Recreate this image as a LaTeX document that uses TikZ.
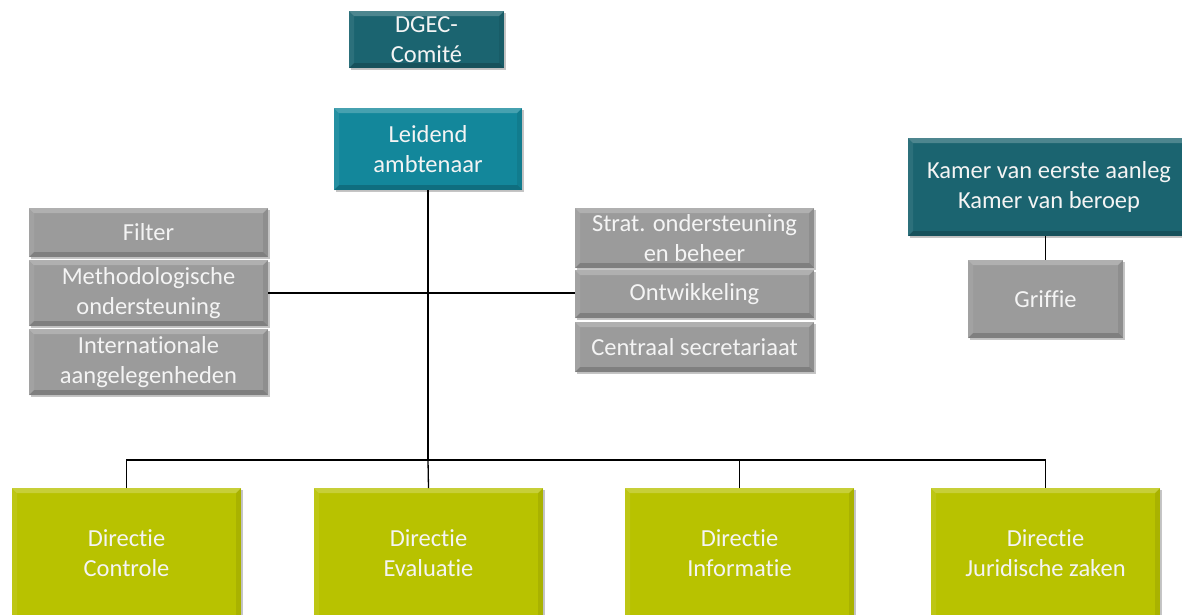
\documentclass[tikz,border=0pt]{standalone}
\usepackage{fontspec}
\setmainfont{Carlito}[Ligatures={NoCommon,NoContextual},RawFeature={-liga;-clig;-calt}]
\usetikzlibrary{shadows}
\definecolor{tealdark}{HTML}{1B6470}
\definecolor{teallight}{HTML}{13879B}
\definecolor{grayb}{HTML}{9B9B9B}
\definecolor{olive}{HTML}{B8C200}
\definecolor{txt}{HTML}{F4F4F4}
\begin{document}
\begin{tikzpicture}[x=1pt,y=-1pt,
  bevel/.style={path picture={
    \coordinate (bnw) at (path picture bounding box.north west);
    \coordinate (bne) at (path picture bounding box.north east);
    \coordinate (bsw) at (path picture bounding box.south west);
    \coordinate (bse) at (path picture bounding box.south east);
    \fill[white,opacity=.22] (bnw) -- (bne) -- ([shift={(-5pt,-5pt)}]bne) -- ([shift={(5pt,-5pt)}]bnw) -- cycle;
    \fill[black,opacity=.18] (bsw) -- (bse) -- ([shift={(-5pt,5pt)}]bse) -- ([shift={(5pt,5pt)}]bsw) -- cycle;
    \fill[black,opacity=.08] (bne) -- (bse) -- ([shift={(-5pt,5pt)}]bse) -- ([shift={(-5pt,-5pt)}]bne) -- cycle;
    \fill[white,opacity=.08] (bnw) -- (bsw) -- ([shift={(5pt,5pt)}]bsw) -- ([shift={(5pt,-5pt)}]bnw) -- cycle;
  }},
  box/.style={draw=none, text=txt, align=center, inner sep=0pt, bevel,
    font=\fontsize{24.5}{29.5}\selectfont,
    drop shadow={shadow xshift=2pt, shadow yshift=-2pt, opacity=0.45}},
  dk/.style={box, fill=tealdark},
  lt/.style={box, fill=teallight},
  gr/.style={box, fill=grayb},
  ol/.style={box, fill=olive},
  lbl/.style={text=txt, align=center, font=\fontsize{24.5}{29.5}\selectfont},
  conn/.style={draw=black, line width=1.3pt}]
\clip (0,0) rectangle (1182,614);
\fill[white] (0,0) rectangle (1182,614);
% top
\node[dk, minimum width=155pt, minimum height=57pt] (dgec) at (426.5,39.5) {DGEC-\\Comité};
\node[lt, minimum width=188pt, minimum height=82pt] (lead) at (428,149) {Leidend\\ambtenaar};
\node[dk, minimum width=290pt, minimum height=98pt] (kamer) at (1053,187) {};
\node[lbl] (kamertxt) at (1049,187) {Kamer van eerste aanleg\\Kamer van beroep};
\node[gr, minimum width=155pt, minimum height=78pt] (griffie) at (1045.5,299) {Griffie};
% left stack
\node[gr, minimum width=239pt, minimum height=49pt] (filter) at (148.5,232.5) {Filter};
\node[gr, minimum width=239pt, minimum height=66pt] (metho) at (148.5,293) {Methodologische\\ondersteuning};
\node[gr, minimum width=239pt, minimum height=66pt] (inter) at (148.5,362) {Internationale\\aangelegenheden};
% right stack
\node[gr, minimum width=239pt, minimum height=60pt] (strat) at (694.5,238) {Strat. ondersteuning\\en beheer};
\node[gr, minimum width=239pt, minimum height=48pt] (ontw) at (694.5,294) {Ontwikkeling};
\node[gr, minimum width=239pt, minimum height=50pt] (centr) at (694.5,347) {Centraal secretariaat};
% bottom
\node[ol, minimum width=229pt, minimum height=150pt, anchor=north] (d1) at (126.5,488) {};
\node[ol, minimum width=229pt, minimum height=150pt, anchor=north] (d2) at (428.5,488) {};
\node[ol, minimum width=229pt, minimum height=150pt, anchor=north] (d3) at (739.5,488) {};
\node[ol, minimum width=229pt, minimum height=150pt, anchor=north] (d4) at (1045.5,488) {};
\node[lbl] (t1) at (126.5,553) {Directie\\Controle};
\node[lbl] (t2) at (428.5,553) {Directie\\Evaluatie};
\node[lbl] (t3) at (739.5,553) {Directie\\Informatie};
\node[lbl] (t4) at (1045.5,553) {Directie\\Juridische zaken};
% connectors
\coordinate (bus) at (428,460);
\draw[conn] (lead.south) -- (bus);
\draw[conn] (metho.east) -- (ontw.west |- metho.east);
\draw[conn] (d1.north) |- (bus) -| (d4.north);
\draw[conn] (d2.north) -- (bus);
\draw[conn] (d3.north) -- (d3.north |- bus);
\draw[conn] (kamer.south -| griffie.north) -- (griffie.north);
\end{tikzpicture}
\end{document}
